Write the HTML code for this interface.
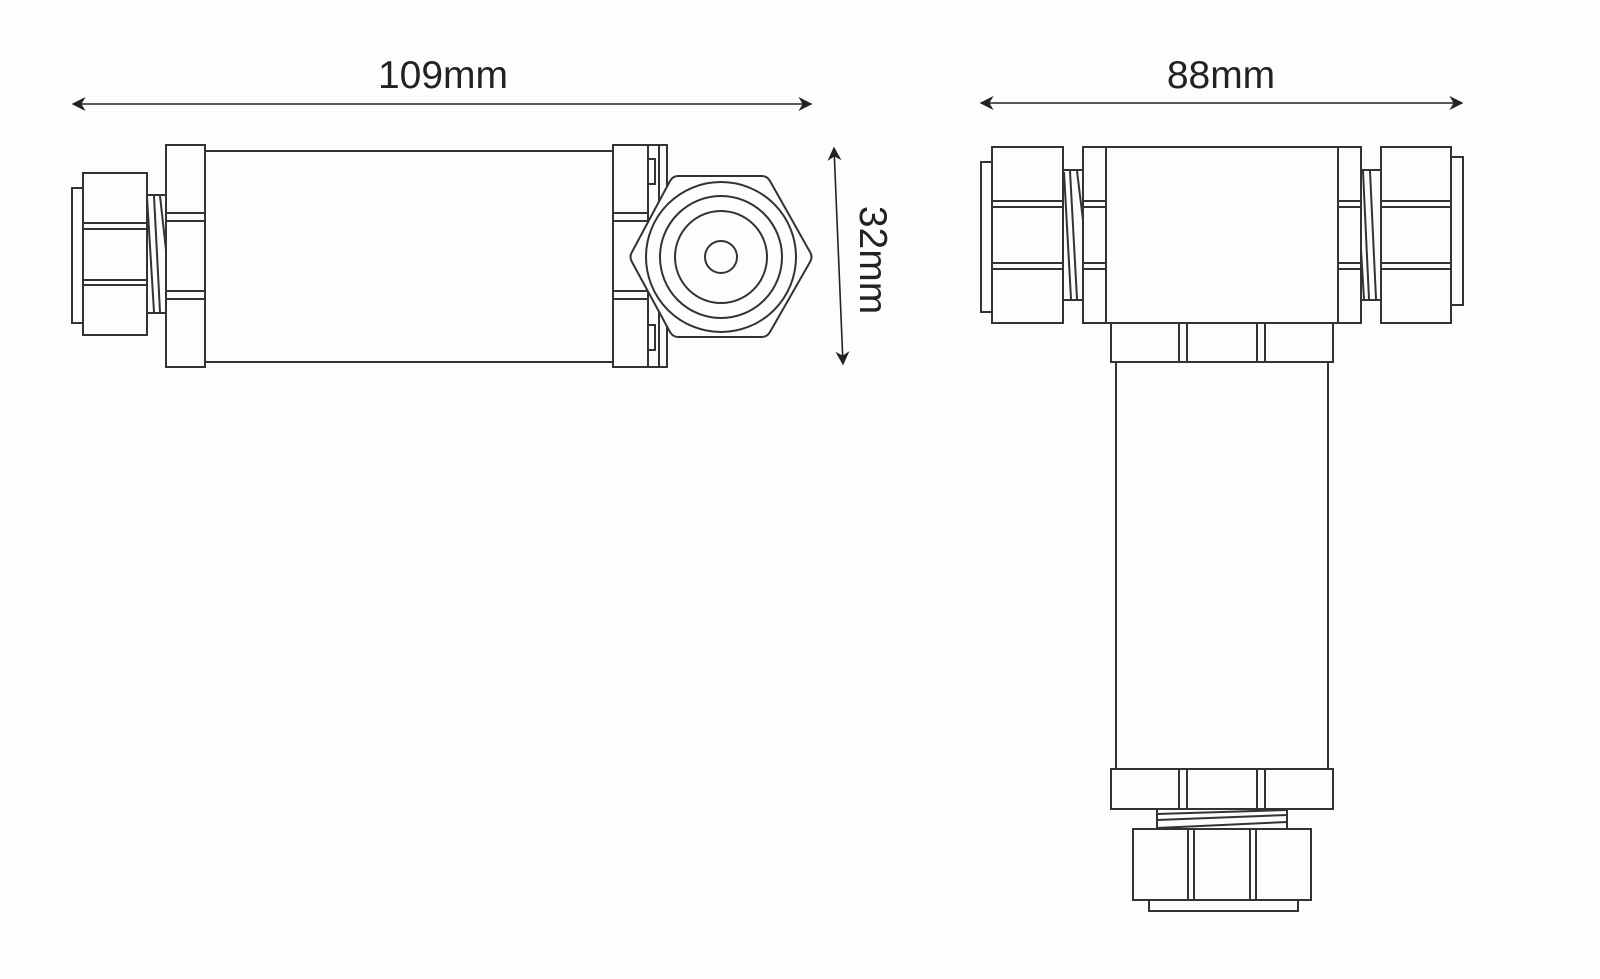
<!DOCTYPE html>
<html><head><meta charset="utf-8"><style>
html,body{margin:0;padding:0;background:#fdfdfd;}
svg{display:block}
text{font-family:"Liberation Sans",sans-serif;fill:#222;}
</style></head><body>
<svg width="1600" height="979" viewBox="0 0 1600 979" xmlns="http://www.w3.org/2000/svg">
<defs>
<marker id="ah" viewBox="0 0 10 10" refX="9" refY="5" markerWidth="14" markerHeight="14" markerUnits="userSpaceOnUse" orient="auto-start-reverse">
<path d="M0,0 L10,5 L0,10 L3,5 z" fill="#222"/>
</marker>
</defs>
<rect width="1600" height="979" fill="#fdfdfd"/>
<g stroke="#222" stroke-width="2" fill="none">
<!-- dimension lines -->
<line x1="73" y1="104" x2="811" y2="104" stroke-width="1.6" marker-start="url(#ah)" marker-end="url(#ah)"/>
<line x1="834" y1="148" x2="843" y2="364" stroke-width="1.6" marker-start="url(#ah)" marker-end="url(#ah)"/>
<line x1="981" y1="103" x2="1462" y2="103" stroke-width="1.6" marker-start="url(#ah)" marker-end="url(#ah)"/>
</g>
<text x="443" y="88" font-size="39" text-anchor="middle">109mm</text>
<text x="1221" y="88" font-size="39" text-anchor="middle">88mm</text>
<text transform="translate(860,260) rotate(90)" font-size="39" text-anchor="middle">32mm</text>

<g stroke="#333" stroke-width="2" fill="#fdfdfd">
<!-- LEFT VIEW -->
<line x1="205" y1="151" x2="613" y2="151"/>
<line x1="205" y1="362" x2="613" y2="362"/>
<rect x="72" y="188" width="11" height="135"/>
<rect x="83" y="173" width="64" height="162"/>
<rect x="83" y="223" width="64" height="6"/>
<rect x="83" y="280" width="64" height="5"/>
<rect x="147" y="195" width="19" height="118"/>
<line x1="147" y1="197" x2="154" y2="312"/>
<line x1="154" y1="196" x2="160" y2="312"/>
<line x1="160" y1="196" x2="166" y2="250"/>
<rect x="166" y="145" width="39" height="222"/>
<rect x="166" y="213" width="39" height="8"/>
<rect x="166" y="291" width="39" height="8"/>
<!-- right flange -->
<rect x="613" y="145" width="54" height="222"/>
<line x1="648" y1="145" x2="648" y2="367"/>
<line x1="659" y1="145" x2="659" y2="367"/>
<rect x="613" y="213" width="35" height="8"/>
<rect x="613" y="291" width="35" height="8"/>
<rect x="648" y="159" width="7" height="25"/>
<rect x="648" y="325" width="7" height="25"/>
<!-- hex -->
<path d="M678,176 L762,176 Q767,176 770,181 L810,252 Q813,257 810,262 L770,332 Q767,337 762,337 L678,337 Q673,337 670,332 L632,262 Q629,257 632,252 L670,181 Q673,176 678,176 Z"/>
<circle cx="721" cy="257" r="75"/>
<circle cx="721" cy="257" r="61"/>
<circle cx="721" cy="257" r="46"/>
<circle cx="721" cy="257" r="16"/>

<!-- RIGHT VIEW -->
<rect x="1116" y="362" width="212" height="407"/>
<rect x="1111" y="323" width="222" height="39"/>
<line x1="1179" y1="323" x2="1179" y2="362"/><line x1="1187" y1="323" x2="1187" y2="362"/>
<line x1="1257" y1="323" x2="1257" y2="362"/><line x1="1265" y1="323" x2="1265" y2="362"/>
<rect x="981" y="162" width="11" height="150"/>
<rect x="992" y="147" width="71" height="176"/>
<rect x="992" y="201" width="71" height="6"/>
<rect x="992" y="263" width="71" height="6"/>
<rect x="1063" y="170" width="20" height="130"/>
<line x1="1064" y1="172" x2="1071" y2="299"/>
<line x1="1070" y1="171" x2="1077" y2="299"/>
<line x1="1077" y1="171" x2="1083" y2="220"/>
<rect x="1083" y="147" width="278" height="176"/>
<line x1="1106" y1="147" x2="1106" y2="323"/>
<line x1="1338" y1="147" x2="1338" y2="323"/>
<rect x="1083" y="201" width="23" height="6"/>
<rect x="1083" y="263" width="23" height="6"/>
<rect x="1338" y="201" width="23" height="6"/>
<rect x="1338" y="263" width="23" height="6"/>
<rect x="1361" y="170" width="20" height="130"/>
<line x1="1363" y1="171" x2="1369" y2="299"/>
<line x1="1370" y1="171" x2="1376" y2="299"/>
<line x1="1361" y1="250" x2="1364" y2="299"/>
<rect x="1451" y="157" width="12" height="148"/>
<rect x="1381" y="147" width="70" height="176"/>
<rect x="1381" y="201" width="70" height="6"/>
<rect x="1381" y="263" width="70" height="6"/>
<!-- bottom -->
<rect x="1111" y="769" width="222" height="40"/>
<line x1="1179" y1="769" x2="1179" y2="809"/><line x1="1187" y1="769" x2="1187" y2="809"/>
<line x1="1257" y1="769" x2="1257" y2="809"/><line x1="1265" y1="769" x2="1265" y2="809"/>
<rect x="1157" y="809" width="130" height="20"/>
<line x1="1157" y1="814" x2="1287" y2="810"/>
<line x1="1157" y1="820" x2="1287" y2="815"/>
<line x1="1157" y1="828" x2="1287" y2="822"/>
<rect x="1149" y="900" width="149" height="11"/>
<rect x="1133" y="829" width="178" height="71"/>
<line x1="1188" y1="829" x2="1188" y2="900"/><line x1="1194" y1="829" x2="1194" y2="900"/>
<line x1="1250" y1="829" x2="1250" y2="900"/><line x1="1256" y1="829" x2="1256" y2="900"/>
</g>
</svg>
</body></html>
